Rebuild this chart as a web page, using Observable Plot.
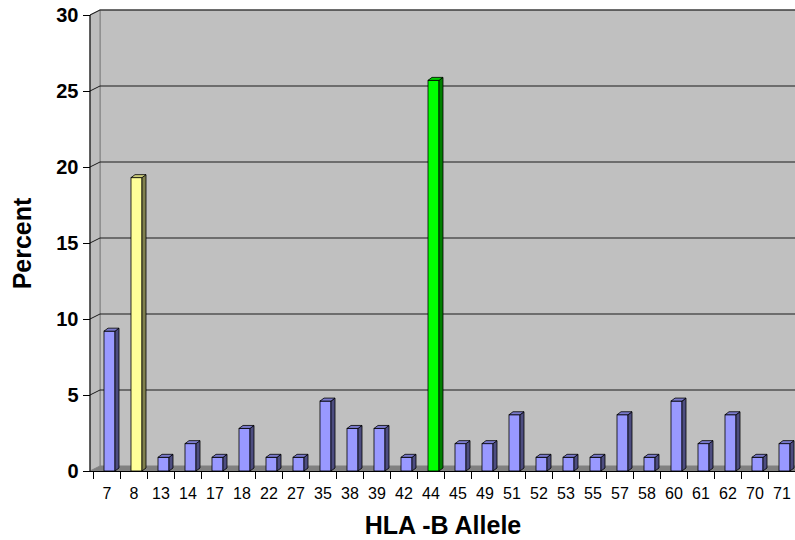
<!DOCTYPE html>
<html><head><meta charset="utf-8">
<script src="https://cdn.jsdelivr.net/npm/d3@7"></script>
<script src="https://cdn.jsdelivr.net/npm/@observablehq/plot@0.6"></script>
<style>
html,body{margin:0;padding:0;background:#fff;overflow:hidden;}
#chart svg{overflow:visible;font-family:"Liberation Sans",Arial,sans-serif;}
</style></head><body><div id="chart"></div>
<script>
// ---- data ----
const alleles = ["7","8","13","14","17","18","22","27","35","38","39","42","44","45","49","51","52","53","55","57","58","60","61","62","70","71"];
const percents = [9.2,19.3,0.9,1.8,0.9,2.8,0.9,0.9,4.6,2.8,2.8,0.9,25.7,1.8,1.8,3.7,0.9,0.9,0.9,3.7,0.9,4.6,1.8,3.7,0.9,1.8];
const yTicks = [0,5,10,15,20,25,30];
const xTitle = "HLA -B Allele";
const yTitle = "Percent";

// ---- styles ----
const palette = {
  base: {front:"#9999ff", side:"#4d4d80", top:"#7a7acc"},
  "8":  {front:"#ffff99", side:"#80804d", top:"#cccc7a"},
  "44": {front:"#00ff00", side:"#008000", top:"#00cc00"}
};
const colorOf = a => palette[a] || palette.base;
const data = alleles.map((a,i)=>({allele:a, value:percents[i]}));

const BAR_DX = 3, DEP_X = 4, DEP_Y = 3, WALL_X = 10, WALL_Y = 5;

function walls(index, scales, values, dim) {
  const {y} = scales;
  const g = d3.create("svg:g");
  const L = dim.marginLeft, R = dim.width + 20;
  const y0 = y(0), yT = y(yTicks[yTicks.length-1]);
  g.append("rect").attr("x", L+WALL_X).attr("y", yT-WALL_Y)
    .attr("width", R-L).attr("height", y0-yT)
    .attr("fill","#c0c0c0").attr("stroke","#808080");
  g.append("polygon").attr("points", [[L,yT],[L+WALL_X,yT-WALL_Y],[L+WALL_X,y0-WALL_Y],[L,y0]].join(" "))
    .attr("fill","#bdbdbd").attr("stroke","#808080");
  for (const t of yTicks.slice(1)) {
    const yy = y(t);
    g.append("polyline").attr("points", [[L,yy],[L+WALL_X,yy-WALL_Y],[R,yy-WALL_Y]].join(" "))
      .attr("fill","none").attr("stroke","#1a1a1a").attr("stroke-width",1);
  }
  g.append("polygon").attr("points", [[L,y0],[L+WALL_X,y0-WALL_Y],[R,y0-WALL_Y],[R,y0]].join(" "))
    .attr("fill","#808080");
  return g.node();
}

function bar3d(index, scales, values, dim) {
  const {x, y} = scales;
  const bw = x.bandwidth();
  const g = d3.create("svg:g").attr("stroke","#000").attr("stroke-width",0.8).attr("stroke-linejoin","round");
  for (const d of data) {
    const c = colorOf(d.allele);
    const x1 = x(d.allele) + BAR_DX, x2 = x1 + bw, yt = y(d.value), yb = y(0);
    g.append("polygon").attr("points", [[x2,yb],[x2+DEP_X,yb-DEP_Y],[x2+DEP_X,yt-DEP_Y],[x2,yt]].join(" ")).attr("fill", c.side);
    g.append("polygon").attr("points", [[x1,yt],[x1+DEP_X,yt-DEP_Y],[x2+DEP_X,yt-DEP_Y],[x2,yt]].join(" ")).attr("fill", c.top);
  }
  return g.node();
}

function axesLines(index, scales, values, dim) {
  const {x, y} = scales;
  const g = d3.create("svg:g").attr("stroke","#000").attr("stroke-width",1);
  const L = dim.marginLeft, y0 = y(0), yT = y(yTicks[yTicks.length-1]);
  const step = x.step ? x.step() : x.bandwidth()/0.4;
  g.append("line").attr("x1",L).attr("x2",L).attr("y1",yT).attr("y2",y0+0.5);
  g.append("line").attr("x1",L).attr("x2",dim.width+20).attr("y1",y0+0.5).attr("y2",y0+0.5);
  for (const a of alleles) {
    const bx = Math.round(x(a) + x.bandwidth()/2 - step/2) + 0.5;
    g.append("line").attr("x1",bx).attr("x2",bx).attr("y1",y0).attr("y2",y0+8);
  }
  return g.node();
}

const chart = Plot.plot({
  width: 795, height: 540,
  marginLeft: 90, marginRight: 0, marginTop: 15, marginBottom: 69,
  style: {fontFamily: '"Liberation Sans", Arial, sans-serif', background: "#fff", overflow: "visible"},
  x: {type: "band", domain: alleles, range: [90, 797], paddingInner: 0.6, paddingOuter: 0.3, align: 0.5},
  y: {domain: [0, 30]},
  marks: [
    walls,
    Plot.barY(data, {x: "allele", y: "value", dx: BAR_DX, fill: d => colorOf(d.allele).front, stroke: "#000", strokeWidth: 0.8}),
    bar3d,
    axesLines,
    Plot.axisY({ticks: yTicks, tickSize: 7, tickPadding: 5, fontSize: 20, fontWeight: "bold", label: null, stroke: "#000"}),
    Plot.axisX({tickSize: 0, tickPadding: 16, fontSize: 16, label: null}),
    Plot.text([xTitle], {frameAnchor: "bottom", textAnchor: "middle", lineAnchor: "middle", dy: 54, fontSize: 25, fontWeight: "bold", fill: "#000"}),
    Plot.text([yTitle], {frameAnchor: "left", textAnchor: "middle", lineAnchor: "middle", dx: -68, dy: 0, rotate: -90, fontSize: 25, fontWeight: "bold", fill: "#000"})
  ]
});
document.getElementById("chart").appendChild(chart);
</script>
</body></html>
